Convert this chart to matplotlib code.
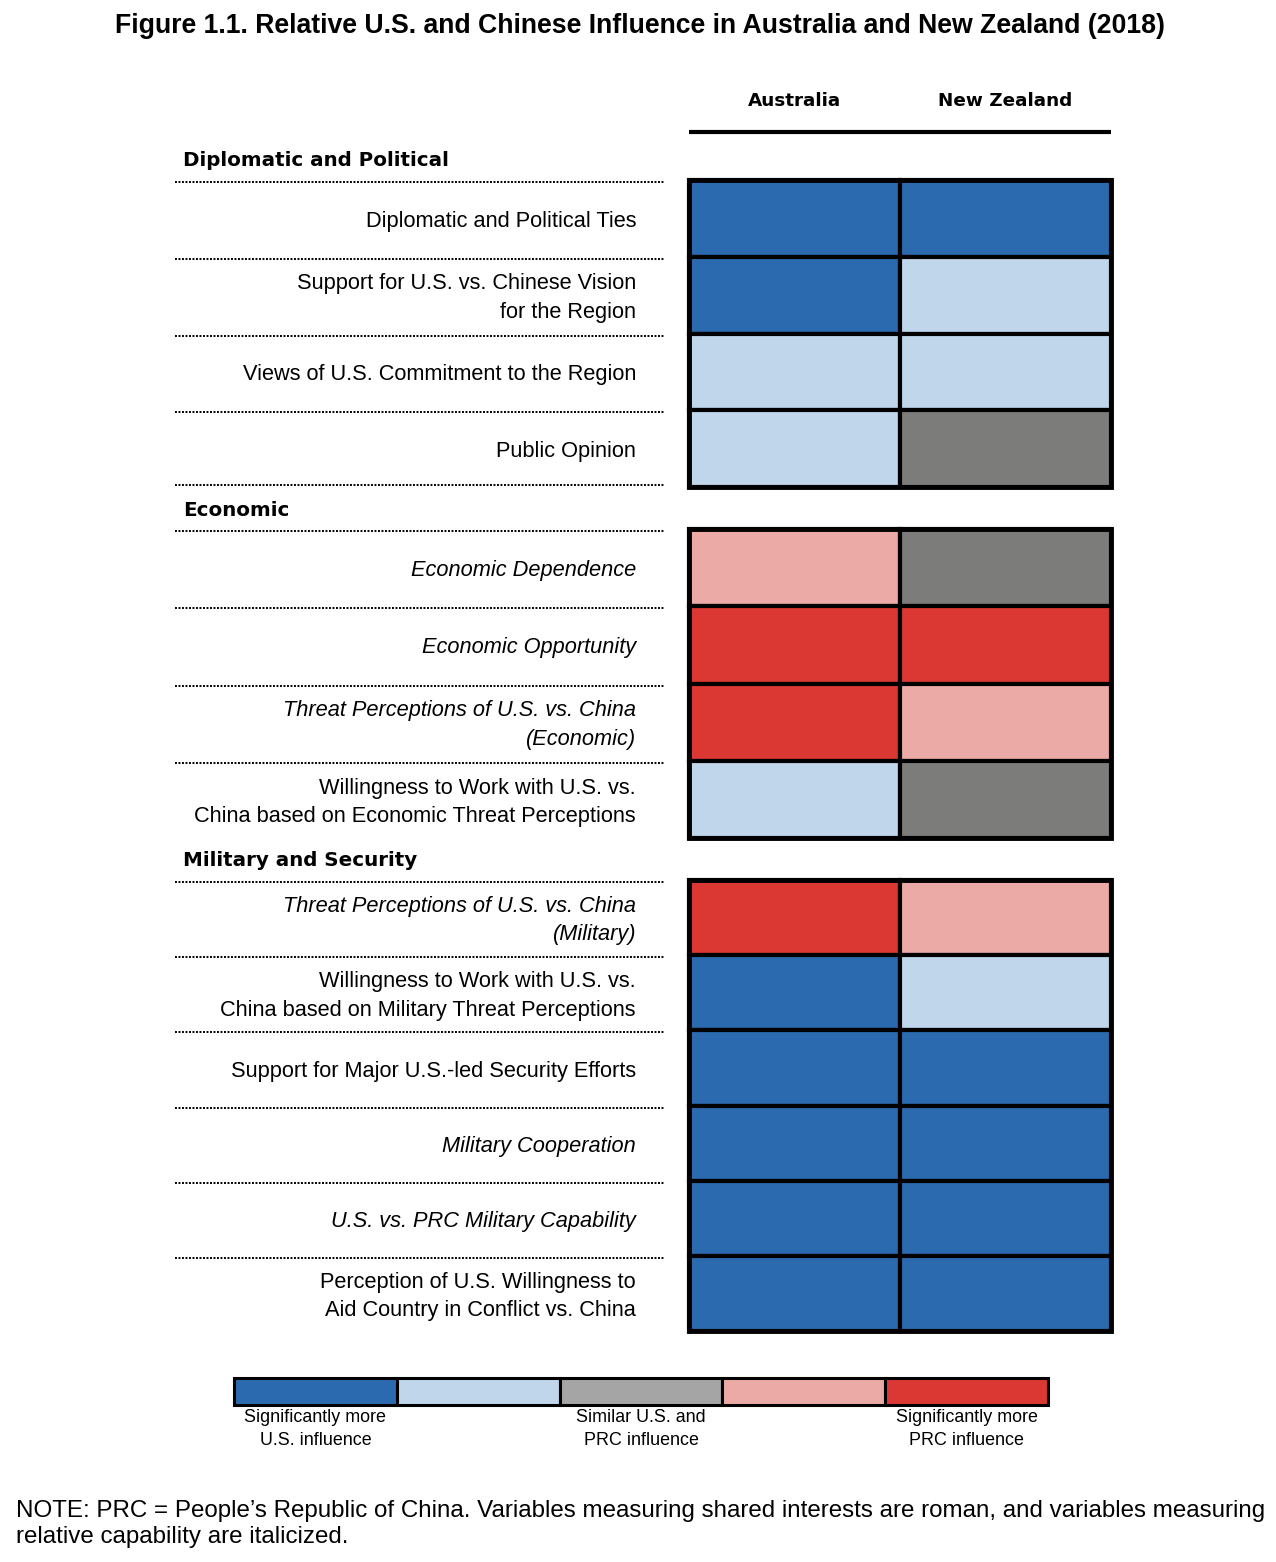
import matplotlib.pyplot as plt

# Data: rows per section, score 0..4 (0 = significantly more U.S., 4 = significantly more PRC)
sections = ["Diplomatic and Political", "Economic", "Military and Security"]
row_labels = [
    ["Diplomatic and Political Ties",
     "Support for U.S. vs. Chinese Vision\nfor the Region",
     "Views of U.S. Commitment to the Region",
     "Public Opinion"],
    ["Economic Dependence",
     "Economic Opportunity",
     "Threat Perceptions of U.S. vs. China\n(Economic)",
     "Willingness to Work with U.S. vs.\nChina based on Economic Threat Perceptions"],
    ["Threat Perceptions of U.S. vs. China\n(Military)",
     "Willingness to Work with U.S. vs.\nChina based on Military Threat Perceptions",
     "Support for Major U.S.-led Security Efforts",
     "Military Cooperation",
     "U.S. vs. PRC Military Capability",
     "Perception of U.S. Willingness to\nAid Country in Conflict vs. China"],
]
row_italic = [
    [False, False, False, False],
    [True, True, True, False],
    [True, False, False, True, True, False],
]
countries = ["Australia", "New Zealand"]
australia = [[0, 0, 1, 1], [3, 4, 4, 1], [4, 0, 0, 0, 0, 0]]
new_zealand = [[0, 1, 1, 2], [2, 4, 3, 2], [3, 1, 0, 0, 0, 0]]

grid_colors = ["#2B6AAF", "#C0D7EB", "#7C7C7A", "#EBAAA6", "#DC3833"]
legend_colors = ["#2B6AAF", "#C0D7EB", "#A5A5A5", "#EBAAA6", "#DC3833"]
legend_labels = {0: "Significantly more\nU.S. influence",
                 2: "Similar U.S. and\nPRC influence",
                 4: "Significantly more\nPRC influence"}

title = "Figure 1.1. Relative U.S. and Chinese Influence in Australia and New Zealand (2018)"
note = ("NOTE: PRC = People\u2019s Republic of China. Variables measuring shared interests are roman, and variables measuring\n"
        "relative capability are italicized.")

# layout (pixel coordinates)
W, H = 1276, 1562
group_top = [180, 529, 880]
row_h = [76.75, 77.25, 75.2]
col_left = [689, 900]
col_w = 211
label_x = 636
line_x = (175, 665)

fig = plt.figure(figsize=(W / 100, H / 100), dpi=100)
ax = fig.add_axes([0, 0, 1, 1])
ax.set_xlim(0, W)
ax.set_ylim(H, 0)
ax.axis("off")

sans = "Liberation Sans"
head = "DejaVu Sans"

ax.text(640, 26, title, ha="center", va="center", fontsize=19.2,
        fontweight="bold", family=sans)

for j, c in enumerate(countries):
    ax.text(col_left[j] + col_w / 2, 101, c, ha="center", va="center",
            fontsize=13.2, fontweight="bold", family=head)
ax.plot([col_left[0], col_left[1] + col_w], [132, 132], color="black", lw=3,
        solid_capstyle="butt")

for g, sec in enumerate(sections):
    top = group_top[g]
    h = row_h[g]
    n = len(row_labels[g])
    ax.text(183, top - 19, sec, ha="left", va="center", fontsize=14.3,
            fontweight="bold", family=head)
    centers = [top + h * (i + 0.5) for i in range(n)]
    for j, vals in enumerate([australia[g], new_zealand[g]]):
        ax.barh(centers, col_w, height=h, left=col_left[j],
                color=[grid_colors[v] for v in vals],
                edgecolor="black", linewidth=3)
    ax.add_patch(plt.Rectangle((col_left[0], top), 2 * col_w, n * h,
                               fill=False, edgecolor="black", lw=3.5))
    for i, lab in enumerate(row_labels[g]):
        ax.text(label_x, centers[i] + 3, lab, ha="right", va="center",
                fontsize=15.7, family=sans, linespacing=1.47,
                fontstyle="italic" if row_italic[g][i] else "normal")
        y = top + h * i + 2
        ax.plot(line_x, [y, y], color="black", lw=1.4, ls=(0, (1, 0.8)))
    if g == 0:
        y = top + h * n - 2
        ax.plot(line_x, [y, y], color="black", lw=1.4, ls=(0, (1, 0.8)))

# legend bar
lx0, lx1 = 234, 1048
seg = (lx1 - lx0) / len(legend_colors)
ax.bar([lx0 + seg * (k + 0.5) for k in range(len(legend_colors))], 27,
       width=seg, bottom=1378, color=legend_colors, edgecolor="black", linewidth=2.2)
for k, lab in legend_labels.items():
    ax.text(lx0 + seg * (k + 0.5), 1429, lab, ha="center", va="center",
            fontsize=12.9, family=sans, linespacing=1.45)

ax.text(16, 1524, note, ha="left", va="center", fontsize=17.4, family=sans,
        linespacing=1.18)

fig.savefig("out.png", dpi=100)
